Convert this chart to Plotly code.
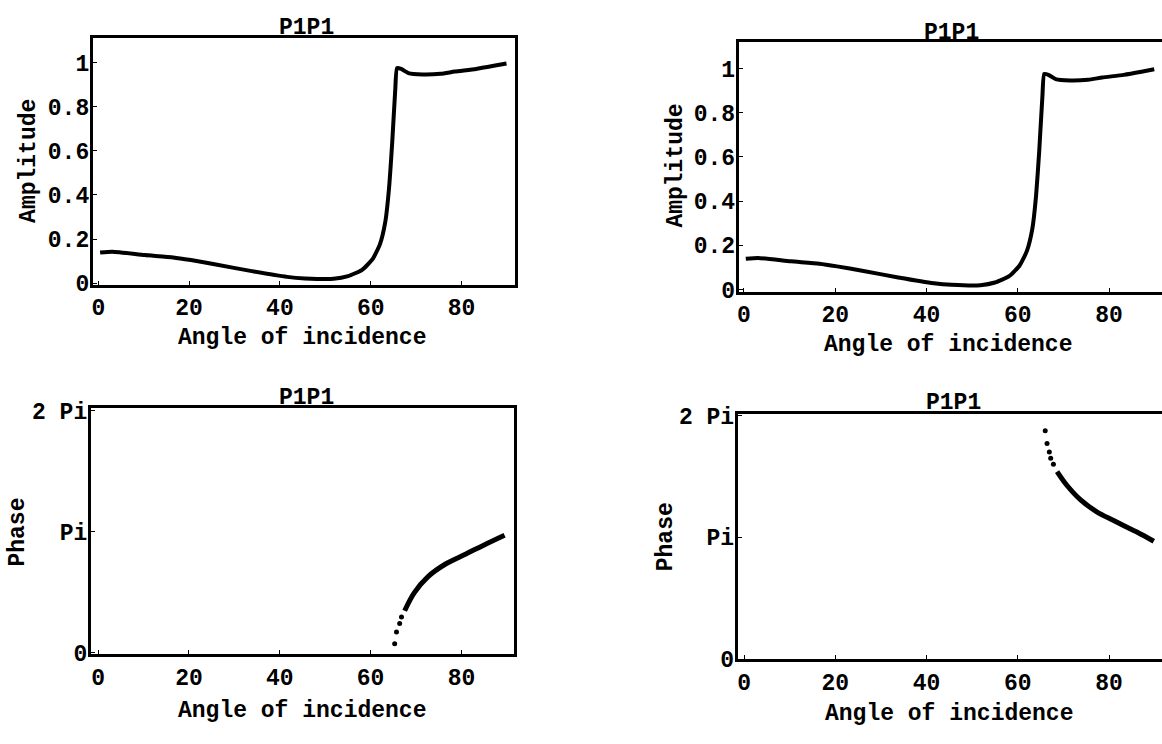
import math
import plotly.graph_objects as go

# ---------------- data ----------------
amp_angle = [0.4, 3.1, 10.2, 16.5, 20.4, 25.9, 33.8, 41.6, 45.5, 51.8, 55.0, 58.1,
             60.4, 62.0, 63.2, 64.0, 64.7, 65.4, 65.8, 66.7, 68.3, 71.4, 75.4,
             78.5, 83.2, 87.1, 89.9]
amp_value = [0.139, 0.143, 0.128, 0.117, 0.105, 0.085, 0.055, 0.029, 0.022, 0.020,
             0.032, 0.061, 0.109, 0.175, 0.277, 0.423, 0.627, 0.876, 0.975, 0.971,
             0.952, 0.946, 0.949, 0.959, 0.971, 0.985, 0.996]

# phase values in units of Pi
phaseL_dot_angle = [65.3, 65.7, 66.4, 66.8]
phaseL_dot_value = [0.072, 0.170, 0.240, 0.294]
phaseL_angle = [67.5, 69.6, 72.6, 76.6, 81.0, 85.0, 89.5]
phaseL_value = [0.346, 0.494, 0.626, 0.734, 0.815, 0.890, 0.970]

phaseR_dot_angle = [66.0, 66.4, 66.9, 67.2, 67.8]
phaseR_dot_value = [1.875, 1.770, 1.700, 1.650, 1.600]
phaseR_angle = [68.6, 70.7, 73.7, 77.3, 80.9, 84.6, 86.3, 89.8]
phaseR_value = [1.540, 1.430, 1.310, 1.210, 1.140, 1.070, 1.040, 0.968]

x_ticks = [0, 20, 40, 60, 80]
amp_ticks = [0, 0.2, 0.4, 0.6, 0.8, 1]
amp_tick_text = ["0", "0.2", "0.4", "0.6", "0.8", "1"]
phase_ticks_pi = [0, 1, 2]
phase_tick_text = ["0", "Pi", "2 Pi"]

title_text = "P1P1"
x_title = "Angle of incidence"
amp_title = "Amplitude"
phase_title = "Phase"

# ---------------- figure ----------------
W, H = 1162, 744
FONT = dict(family="Liberation Mono, DejaVu Sans Mono, monospace", size=23,
            color="black", weight="bold")


def px(x):
    return x / W


def py(y):
    return 1 - y / H


fig = go.Figure()

line_style = dict(color="black", width=4, shape="spline", smoothing=0.5)

# top-left amplitude
fig.add_trace(go.Scatter(x=amp_angle, y=amp_value, mode="lines", line=line_style,
                         xaxis="x", yaxis="y", showlegend=False))
# top-right amplitude
fig.add_trace(go.Scatter(x=amp_angle, y=amp_value, mode="lines", line=line_style,
                         xaxis="x2", yaxis="y2", showlegend=False))
# bottom-left phase
fig.add_trace(go.Scatter(x=phaseL_dot_angle, y=[v * math.pi for v in phaseL_dot_value],
                         mode="markers", marker=dict(color="black", size=5),
                         xaxis="x3", yaxis="y3", showlegend=False))
fig.add_trace(go.Scatter(x=phaseL_angle, y=[v * math.pi for v in phaseL_value],
                         mode="lines", line=dict(color="black", width=5, shape="spline"),
                         xaxis="x3", yaxis="y3", showlegend=False))
# bottom-right phase
fig.add_trace(go.Scatter(x=phaseR_dot_angle, y=[v * math.pi for v in phaseR_dot_value],
                         mode="markers", marker=dict(color="black", size=5),
                         xaxis="x4", yaxis="y4", showlegend=False))
fig.add_trace(go.Scatter(x=phaseR_angle, y=[v * math.pi for v in phaseR_value],
                         mode="lines", line=dict(color="black", width=5, shape="spline"),
                         xaxis="x4", yaxis="y4", showlegend=False))

axis_common = dict(showgrid=False, zeroline=False, showline=True, linecolor="black",
                   linewidth=3, ticks="inside", ticklen=4, tickwidth=1,
                   tickcolor="black", tickfont=FONT)
yaxis_common = dict(axis_common, ticklabelstandoff=-4)

fig.update_layout(
    width=W, height=H,
    margin=dict(l=0, r=0, t=0, b=0),
    paper_bgcolor="white", plot_bgcolor="white",
    xaxis=dict(axis_common, domain=[px(91), px(514)], range=[-1.2, 91.8],
               tickvals=x_ticks, mirror=True, anchor="y"),
    yaxis=dict(yaxis_common, domain=[py(285), py(30)], range=[-0.007, 1.111],
               tickvals=amp_ticks, ticktext=amp_tick_text, mirror=True, anchor="x"),
    xaxis2=dict(axis_common, domain=[px(738), 1.0], range=[-1.15, 91.6],
                tickvals=x_ticks, mirror=True, anchor="y2"),
    yaxis2=dict(yaxis_common, domain=[py(292), py(34)], range=[-0.009, 1.12],
                tickvals=amp_ticks, ticktext=amp_tick_text, anchor="x2"),
    xaxis3=dict(axis_common, domain=[px(89), px(513)], range=[-1.6, 91.6],
                tickvals=x_ticks, mirror=True, anchor="y3"),
    yaxis3=dict(yaxis_common, domain=[py(667), py(412)],
                range=[-0.016 * math.pi, 2.024 * math.pi],
                tickvals=[v * math.pi for v in phase_ticks_pi], ticktext=phase_tick_text,
                mirror=True, anchor="x3"),
    xaxis4=dict(axis_common, domain=[px(737), 1.0], range=[-1.4, 91.6],
                tickvals=x_ticks, mirror=True, anchor="y4"),
    yaxis4=dict(yaxis_common, domain=[py(672), py(418)],
                range=[0.0, 2.016 * math.pi],
                tickvals=[v * math.pi for v in phase_ticks_pi], ticktext=phase_tick_text,
                anchor="x4"),
)

ann = []


def add_text(text, x, y, angle=0):
    ann.append(dict(text=text, x=px(x), y=py(y), xref="paper", yref="paper",
                    xanchor="center", yanchor="middle", showarrow=False,
                    textangle=angle, font=FONT))


add_text(title_text, 305, 20)
add_text(title_text, 951, 25)
add_text(title_text, 305, 402)
add_text(title_text, 953, 407)
add_text(x_title, 301, 340)
add_text(x_title, 948, 347)
add_text(x_title, 301, 725)
add_text(x_title, 949, 728)
add_text(amp_title, 27, 157, -90)
add_text(amp_title, 675, 162, -90)
add_text(phase_title, 16, 540, -90)
add_text(phase_title, 666, 545, -90)

fig.update_layout(annotations=ann)

fig.write_html("out.html")
